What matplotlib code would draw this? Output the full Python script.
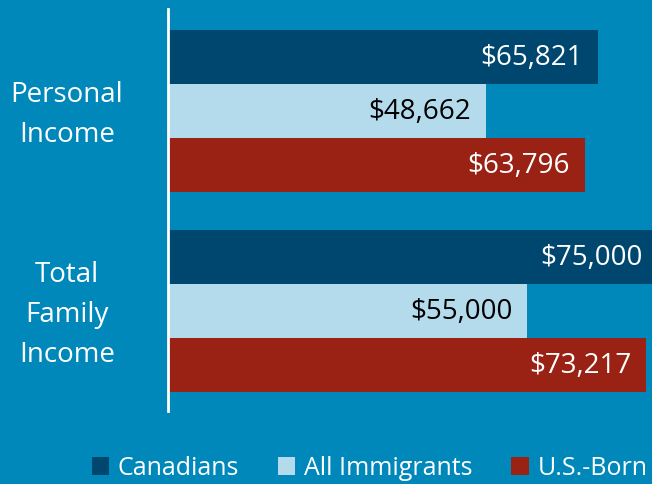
import matplotlib.pyplot as plt
import matplotlib.transforms as mtransforms
import numpy as np

plt.rcParams['font.family'] = ['Open Sans', 'DejaVu Sans']

# data
categories = ['Personal\nIncome', 'Total\nFamily\nIncome']
series = ['Canadians', 'All Immigrants', 'U.S.-Born']
canadians = [65821, 75000]
immigrants = [48662, 55000]
us_born = [63796, 73217]

bg = '#0088bb'
colors = ['#00476f', '#b4dbec', '#992215']
text_colors = ['white', 'black', 'white']

fig = plt.figure(figsize=(6.52, 4.85), dpi=100, facecolor=bg)
ax = fig.add_axes([168 / 652, 73 / 485, 0.8016, 402 / 485])
ax.set_facecolor(bg)

y = np.arange(len(categories))
h = 0.27
values = [canadians, immigrants, us_born]
for i, (name, vals) in enumerate(zip(series, values)):
    pos = y + (i - 1) * h
    bars = ax.barh(pos, vals, height=h, color=colors[i], label=name)
    for b, v in zip(bars, vals):
        ax.text(v - 2300, b.get_y() + h / 2, '${:,}'.format(v),
                ha='right', va='center', color=text_colors[i], fontsize=20)

# category labels, centred in the left margin
trans = mtransforms.blended_transform_factory(fig.transFigure, ax.transData)
trans = trans + mtransforms.ScaledTranslation(0, -3 / 100, fig.dpi_scale_trans)
for yy, cat in zip(y, categories):
    ax.text(67 / 652, yy, cat, transform=trans, ha='center', va='center',
            multialignment='center', linespacing=1.58, fontsize=20, color='white')

ax.set_xlim(0, 80000)
ax.set_ylim(1.5, -0.51)
ax.set_yticks([])
ax.set_xticks([])
for s in ['top', 'right', 'bottom']:
    ax.spines[s].set_visible(False)
ax.spines['left'].set_color('white')
ax.spines['left'].set_linewidth(2)

fig.legend(loc='center', bbox_to_anchor=(0.567, 16 / 485), ncol=3, frameon=False,
           fontsize=18, labelcolor='white', handlelength=0.7, handleheight=0.7,
           handletextpad=0.35, columnspacing=1.55)

plt.savefig('out.png', dpi=100, facecolor=bg)
